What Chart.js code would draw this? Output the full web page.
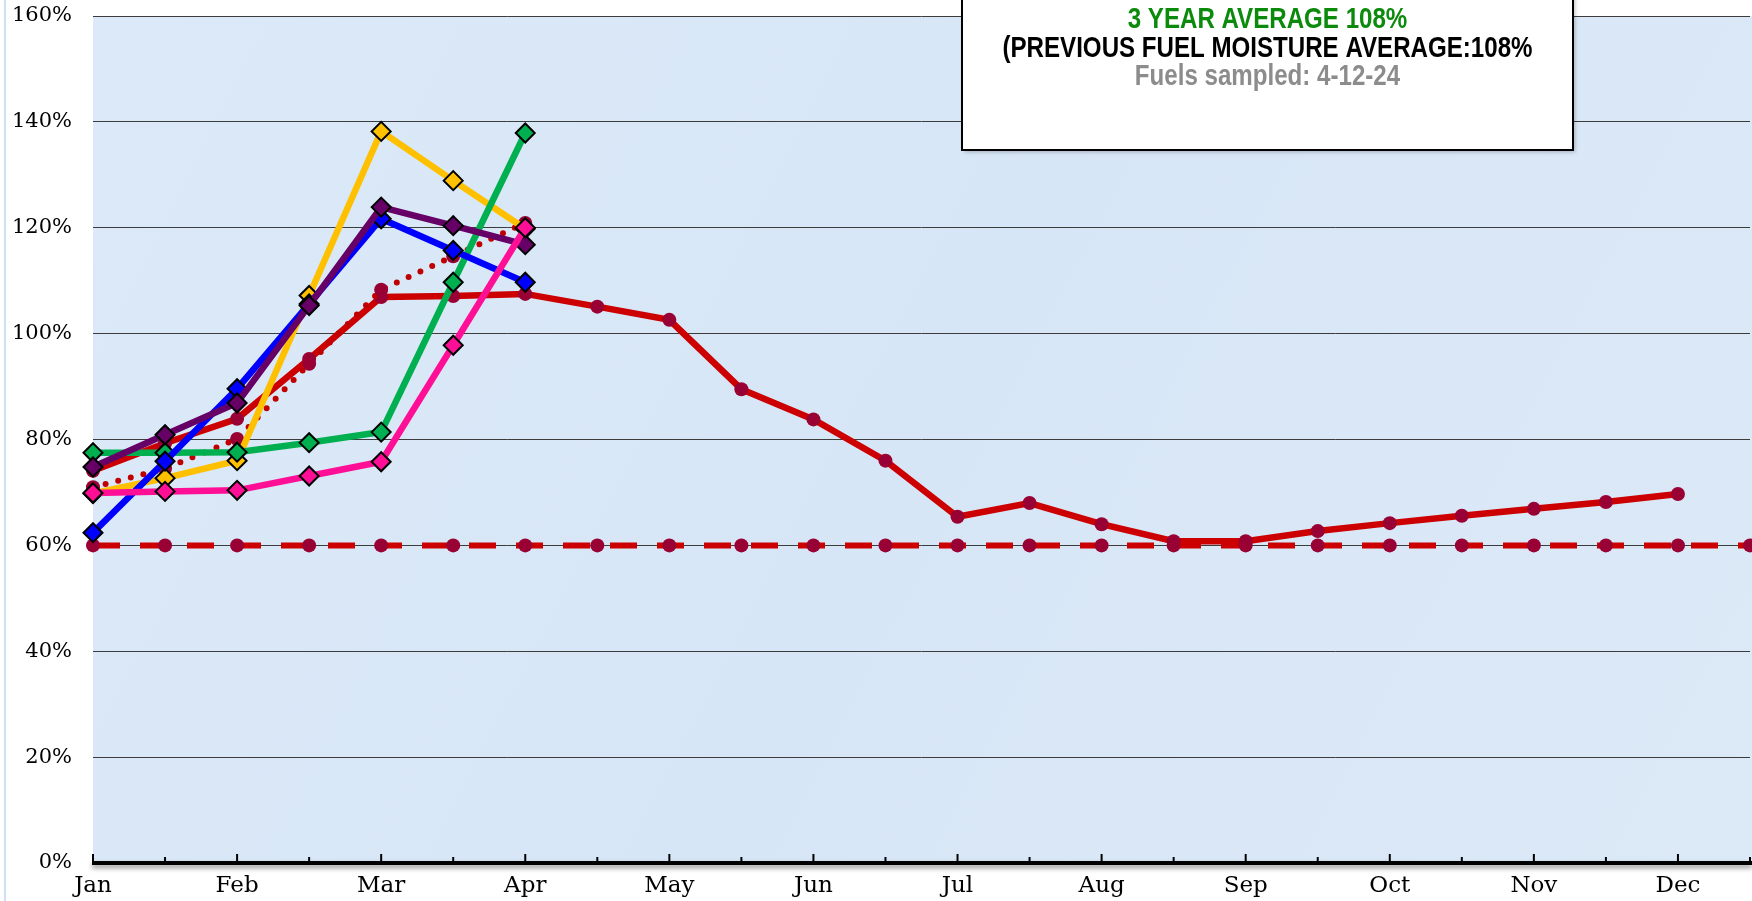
<!DOCTYPE html>
<html>
<head>
<meta charset="utf-8">
<script src="https://cdn.jsdelivr.net/npm/chart.js@4.4.1/dist/chart.umd.min.js"></script>
<style>
  html, body { margin: 0; padding: 0; background: #ffffff; }
  #wrap { position: relative; width: 1752px; height: 901px; overflow: hidden; }
  canvas { display: block; }
</style>
</head>
<body>
<div id="wrap"><canvas id="c" width="1752" height="901"></canvas></div>
<script>
// ---- data ----
const categories = ['Jan','','Feb','','Mar','','Apr','','May','','Jun','','Jul','','Aug','','Sep','','Oct','','Nov','','Dec',''];
const yTicks = [0, 20, 40, 60, 80, 100, 120, 140, 160];

const pinkSeries   = [69.9, 70.2, 70.4, 73.1, 75.8, 97.8, 120.0];
const purpleSeries = [74.8, 80.9, 86.9, 105.3, 123.9, 120.4, 116.8];
const blueSeries   = [62.4, 75.9, 89.6, 105.6, 121.7, 115.7, 109.7];
const greenSeries  = [77.5, 77.5, 77.6, 79.4, 81.4, 109.7, 137.9];
const yellowSeries = [69.8, 72.7, 76.0, 107.2, 138.2, 128.9, 119.8];
const dottedSeries = [71.0, 74.5, 80.1, 94.3, 108.3, 114.6, 120.9];
const redSeries    = [74.1, 79.3, 83.9, 95.2, 106.9, 107.1, 107.5, 105.1, 102.6, 89.5, 83.8, 76.0,
                      65.4, 68.0, 64.0, 60.8, 60.8, 62.7, 64.2, 65.6, 66.9, 68.2, 69.7, null];
const thresholdSeries = [60,60,60,60,60,60,60,60,60,60,60,60,60,60,60,60,60,60,60,60,60,60,60,60];

const boxLines = [
  { text: '3 YEAR AVERAGE 108%', color: '#0b8a0b' },
  { text: '(PREVIOUS FUEL MOISTURE AVERAGE:108%', color: '#000000' },
  { text: 'Fuels sampled: 4-12-24', color: '#8c8c8c' }
];

function diamondSet(label, data, color) {
  return {
    label, data, borderColor: color, backgroundColor: color,
    borderWidth: 6.5, pointStyle: 'rectRot', pointRadius: 9.5,
    pointBackgroundColor: color, pointBorderColor: '#000', pointBorderWidth: 2,
    tension: 0, spanGaps: false
  };
}

const datasets = [
  diamondSet('Pink', pinkSeries, '#ff0f96'),
  diamondSet('Purple', purpleSeries, '#660066'),
  diamondSet('Blue', blueSeries, '#0000ff'),
  diamondSet('Green', greenSeries, '#00b050'),
  diamondSet('Yellow', yellowSeries, '#ffc000'),
  {
    label: 'Previous average', data: dottedSeries, borderColor: '#c00000', borderWidth: 6,
    borderDash: [0, 13], borderCapStyle: 'round', pointStyle: 'circle', pointRadius: 7,
    pointBackgroundColor: '#990033', pointBorderColor: '#990033', pointBorderWidth: 0, tension: 0
  },
  {
    label: 'Average', data: redSeries, borderColor: '#cc0000', borderWidth: 6.5,
    pointStyle: 'circle', pointRadius: 7, pointBackgroundColor: '#990033',
    pointBorderColor: '#990033', pointBorderWidth: 0, tension: 0
  },
  {
    label: 'Critical', data: thresholdSeries, borderColor: '#cc0000', borderWidth: 6,
    borderDash: [27, 20], pointStyle: 'circle', pointRadius: 7, pointBackgroundColor: '#990033',
    pointBorderColor: '#990033', pointBorderWidth: 0, tension: 0
  }
];

const decorPlugin = {
  id: 'decor',
  beforeDraw(chart) {
    const { ctx, chartArea: a } = chart;
    ctx.save();
    ctx.fillStyle = '#ffffff';
    ctx.fillRect(0, 0, chart.width, chart.height);
    ctx.fillStyle = '#cfe0f3';
    ctx.fillRect(4, 0, 2, chart.height);
    const g = ctx.createLinearGradient(a.left, a.top, a.right, a.bottom);
    g.addColorStop(0, '#dbe9f8');
    g.addColorStop(0.5, '#d7e6f6');
    g.addColorStop(1, '#dce9f7');
    ctx.fillStyle = g;
    ctx.fillRect(a.left, a.top, chart.width - a.left, a.bottom - a.top);
    ctx.restore();
  },
  afterDatasetsDraw(chart) {
    const { ctx, chartArea: a } = chart;
    const xs = chart.scales.x;
    ctx.save();
    ctx.shadowColor = 'rgba(0,0,0,0.45)';
    ctx.shadowBlur = 5;
    ctx.shadowOffsetY = 3;
    ctx.strokeStyle = '#000';
    ctx.lineWidth = 4;
    ctx.beginPath();
    ctx.moveTo(a.left - 1, a.bottom);
    ctx.lineTo(chart.width, a.bottom);
    ctx.stroke();
    ctx.shadowColor = 'transparent';
    ctx.lineWidth = 2;
    for (let i = 0; i < categories.length; i++) {
      const x = xs.getPixelForValue(i);
      const len = (i % 2 === 0) ? 9 : 6;
      ctx.beginPath();
      ctx.moveTo(x, a.bottom);
      ctx.lineTo(x, a.bottom - len);
      ctx.stroke();
    }
    const bx = 962, by = -20, bw = 611, bh = 170;
    ctx.shadowColor = 'rgba(0,0,0,0.25)';
    ctx.shadowBlur = 4;
    ctx.shadowOffsetX = 2;
    ctx.shadowOffsetY = 2;
    ctx.fillStyle = '#ffffff';
    ctx.fillRect(bx, by, bw, bh);
    ctx.shadowColor = 'transparent';
    ctx.strokeStyle = '#000';
    ctx.lineWidth = 2;
    ctx.strokeRect(bx, by, bw, bh);
    ctx.font = 'bold 30px "Liberation Sans Narrow", "Liberation Sans", Arial, sans-serif';
    ctx.textAlign = 'center';
    ctx.textBaseline = 'middle';
    const ref = ctx.measureText(boxLines[1].text).width;
    const sx = 530 / ref;
    const cx = bx + bw / 2;
    const ys = [20, 49, 77];
    boxLines.forEach((l, i) => {
      ctx.save();
      ctx.translate(cx, ys[i]);
      ctx.scale(sx, 1);
      ctx.fillStyle = l.color;
      ctx.fillText(l.text, 0, 0);
      ctx.restore();
    });
    ctx.restore();
  }
};

new Chart(document.getElementById('c'), {
  type: 'line',
  data: { labels: categories, datasets },
  plugins: [decorPlugin],
  options: {
    responsive: false,
    devicePixelRatio: 1,
    animation: false,
    layout: { autoPadding: false, padding: { top: 16, right: 2, left: 0, bottom: 0 } },
    plugins: { legend: { display: false }, tooltip: { enabled: false }, title: { display: false } },
    scales: {
      x: {
        type: 'category',
        offset: false,
        grid: { display: false, drawTicks: false },
        border: { display: false },
        ticks: {
          autoSkip: false, maxRotation: 0, minRotation: 0, padding: 9,
          color: '#000', font: { family: '"DejaVu Serif", serif', size: 23 }
        },
        afterFit(scale) { scale.height = 38; scale.paddingLeft = 0; scale.paddingRight = 0; }
      },
      y: {
        min: 0, max: 160,
        afterBuildTicks(scale) { scale.ticks = yTicks.map(v => ({ value: v })); },
        grid: { color: '#3c3c3c', lineWidth: 1, drawTicks: false },
        border: { display: false },
        ticks: {
          padding: 21, color: '#000',
          font: { family: '"DejaVu Serif", serif', size: 21 },
          callback: v => v + '%'
        },
        afterFit(scale) { scale.width = 93; scale.paddingTop = 0; scale.paddingBottom = 0; }
      }
    }
  }
});
</script>
</body>
</html>
